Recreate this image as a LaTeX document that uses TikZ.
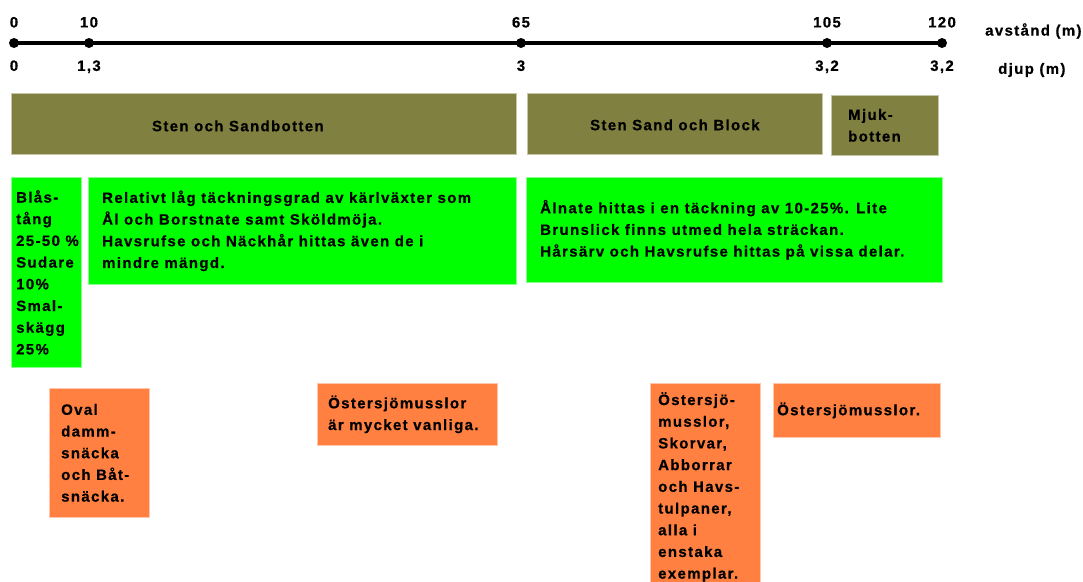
\documentclass[tikz,border=0pt]{standalone}
\usepackage{fontspec}
\setmainfont{Liberation Sans}
\newfontfamily\boxfont[LetterSpace=9, BoldFeatures={FakeBold=0.6}]{Liberation Sans}
\usepackage{tikz}
\usetikzlibrary{positioning}
\usepackage{xcolor}
\definecolor{BottenOlive}{HTML}{808040}
\definecolor{VaxtGreen}{HTML}{00FF00}
\definecolor{DjurOrange}{HTML}{FF8040}

\tikzset{
  box/.style={anchor=north west, inner sep=0pt, fill=#1, draw=#1!45!white, line width=0.7pt},
  boxtext/.style={inner sep=0pt, align=left, font=\boxfont\bfseries\fontsize{15}{21.7}\selectfont},
  axlabel/.style={inner sep=0pt, font=\boxfont\bfseries\fontsize{15}{17}\selectfont},
  dot/.style={circle, fill=black, inner sep=0pt, minimum size=10pt},
  axisline/.style={line width=4pt}
}

\begin{document}
\begin{tikzpicture}[x=1pt, y=-1pt]
    \useasboundingbox (0,0) rectangle (1083,581);

    % avstand / djup axis
    \foreach \x/\avst/\djup [count=\i] in {14/0/0, 89/10/{1,3}, 521/65/3, 827/105/{3,2}, 942/120/{3,2}} {
        \node[dot] (p\i) at (\x,43) {};
        \node[axlabel, above=10pt of p\i] (a\i) {\avst};
        \node[axlabel, below=12pt of p\i] (d\i) {\djup};
    }
    \draw[axisline] (p1.center) -- (p5.center);
    \node[axlabel, anchor=west] (avst) at (985,31) {avstånd (m)};
    \node[axlabel, anchor=west] (djup) at (998,70) {djup (m)};

    % bottentyper
    \node[box=BottenOlive, minimum width=505, minimum height=61] (sand) at (11,93) {};
    \node[box=BottenOlive, minimum width=295, minimum height=61] (block) at (527,93) {};
    \node[box=BottenOlive, minimum width=107, minimum height=60] (mjuk) at (831,95) {};
    \node[boxtext, xshift=-26pt, yshift=-2pt] (sandtext) at (sand.center) {Sten och Sandbotten};
    \node[boxtext, yshift=-1pt] (blocktext) at (block.center) {Sten Sand och Block};
    \node[boxtext, anchor=west] (mjuktext) at ([xshift=17pt]mjuk.west) {Mjuk-\\botten};

    % vaxter
    \node[box=VaxtGreen, minimum width=70, minimum height=190] (blastang) at (11,177) {};
    \node[box=VaxtGreen, minimum width=428, minimum height=107] (karl) at (88,177) {};
    \node[box=VaxtGreen, minimum width=416, minimum height=105] (alnate) at (526,177) {};
    \node[boxtext, anchor=west] (blastangtext) at ([xshift=5pt]blastang.west)
        {Blås-\\tång\\25-50 \%\\Sudare\\10\%\\Smal-\\skägg\\25\%};
    \node[boxtext, anchor=west] (karltext) at ([xshift=14pt]karl.west)
        {Relativt låg täckningsgrad av kärlväxter som\\Ål och Borstnate samt Sköldmöja.\\Havsrufse och Näckhår hittas även de i\\mindre mängd.};
    \node[boxtext, anchor=west] (alnatetext) at ([xshift=14pt]alnate.west)
        {Ålnate hittas i en täckning av 10-25\%. Lite\\Brunslick finns utmed hela sträckan.\\Hårsärv och Havsrufse hittas på vissa delar.};

    % djur
    \node[box=DjurOrange, minimum width=100, minimum height=129] (snacka) at (49,388) {};
    \node[box=DjurOrange, minimum width=180, minimum height=62] (mussla) at (317,383) {};
    \node[box=DjurOrange, minimum width=110, minimum height=215] (skorv) at (650,383) {};
    \node[box=DjurOrange, minimum width=167, minimum height=54] (ostersjo) at (773,383) {};
    \node[boxtext, anchor=west] (snackatext) at ([xshift=12pt]snacka.west)
        {Oval\\damm-\\snäcka\\och Båt-\\snäcka.};
    \node[boxtext, anchor=west] (musslatext) at ([xshift=11pt]mussla.west)
        {Östersjömusslor\\är mycket vanliga.};
    \node[boxtext, anchor=north west] (skorvtext) at ([xshift=8pt, yshift=-9pt]skorv.north west)
        {Östersjö-\\musslor,\\Skorvar,\\Abborrar\\och Havs-\\tulpaner,\\alla i\\enstaka\\exemplar.};
    \node[boxtext, anchor=west] (ostersjotext) at ([xshift=4pt]ostersjo.west) {Östersjömusslor.};
\end{tikzpicture}
\end{document}
